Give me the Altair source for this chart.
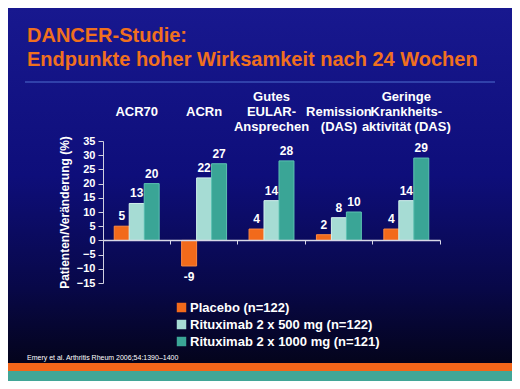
import altair as alt
import pandas as pd

categories = ["\nACR70", "\nACRn", "Gutes\nEULAR-\nAnsprechen", "\nRemission\n(DAS)",
              "Geringe\nKrankheits-\naktivität (DAS)"]
series = ["Placebo (n=122)", "Rituximab 2 x 500 mg (n=122)", "Rituximab 2 x 1000 mg (n=121)"]
placebo = [5, -9, 4, 2, 4]
ritux500 = [13, 22, 14, 8, 14]
ritux1000 = [20, 27, 28, 10, 29]
colors = ["#f26a1b", "#a6dcd4", "#3aa596"]
strokes = ["#ff8a40", "#d0f0ec", "#5cc2b2"]

rows = []
for i, c in enumerate(categories):
    for s, vals in zip(series, [placebo, ritux500, ritux1000]):
        rows.append({"cat": c, "series": s, "value": vals[i], "label": str(vals[i])})
df = pd.DataFrame(rows)

W, H = 504, 373
FONT = "Liberation Sans"

xscale = alt.Scale(domain=categories, range=[95, 432], paddingInner=0, paddingOuter=0)
yscale = alt.Scale(domain=[-15, 35], range=[275, 133], nice=False, zero=False)
xoff = alt.XOffset("series:N", sort=series, scale=alt.Scale(paddingInner=0, paddingOuter=0.75))
yaxis = alt.Axis(orient="left", offset=-95, values=list(range(-15, 40, 5)), grid=False,
                 zindex=2,
                 domainColor="#d0d0e0", tickColor="#d0d0e0", tickSize=5, labelPadding=3,
                 labelColor="white", labelFont=FONT, labelFontWeight="bold", labelFontSize=11,
                 title="Patienten/Veränderung (%)", titleColor="white", titleFont=FONT,
                 titleFontWeight="bold", titleFontSize=12, titlePadding=5)
y = alt.Y("value:Q", scale=yscale, axis=yaxis)

bg = alt.Chart(pd.DataFrame({"a": [0]})).mark_rect(
    color=alt.LinearGradient(gradient="linear", x1=0, x2=0, y1=0, y2=1, stops=[
        alt.GradientStop(offset=0, color="#18188f"),
        alt.GradientStop(offset=0.45, color="#0e0e7a"),
        alt.GradientStop(offset=0.75, color="#080848"),
        alt.GradientStop(offset=0.95, color="#04041c"),
    ])
).encode(x=alt.value(0), x2=alt.value(W), y=alt.value(0), y2=alt.value(H))

bars = alt.Chart(df).mark_bar(strokeWidth=1).encode(
    x=alt.X("cat:N", sort=categories, scale=xscale,
            axis=alt.Axis(orient="top", offset=-95, title=None, ticks=False, domain=False,
                          zindex=2,
                          labelPadding=0, labelAngle=0, labelOverlap=False, labelBound=False,
                          labelExpr="split(datum.label, '\\n')", labelLineHeight=15,
                          labelColor="white", labelFont=FONT, labelFontWeight="bold",
                          labelFontSize=13, labelBaseline="bottom", labelLimit=200)),
    xOffset=xoff,
    y=y,
    color=alt.Color("series:N", sort=series, scale=alt.Scale(domain=series, range=colors),
                    legend=alt.Legend(orient="none", legendX=167, legendY=293, title=None,
                                      symbolType="square", symbolSize=90, symbolStrokeWidth=0,
                                      labelColor="white", labelFont=FONT, labelFontWeight="bold",
                                      labelFontSize=13, rowPadding=3, labelOffset=2,
                                      labelLimit=400)),
    stroke=alt.Stroke("series:N", sort=series, scale=alt.Scale(domain=series, range=strokes),
                      legend=None),
)

pos_text = alt.Chart(df).transform_filter("datum.value >= 0").mark_text(
    dy=-10, baseline="middle", color="white", font=FONT, fontWeight="bold", fontSize=12
).encode(
    x=alt.X("cat:N", sort=categories, scale=xscale,
            axis=alt.Axis(orient="bottom", offset=-141, title=None, labels=False, zindex=2,
                          bandPosition=1, domainColor="#d8d8e8",
                          domainWidth=1.5, tickColor="#d8d8e8", tickSize=4, grid=False)),
    xOffset=xoff, y=y, text="label:N",
)

neg_text = alt.Chart(df).transform_filter("datum.value < 0").mark_text(
    dy=11, baseline="middle", color="white", font=FONT, fontWeight="bold", fontSize=12
).encode(
    x=alt.X("cat:N", sort=categories, scale=xscale, axis=None),
    xOffset=xoff, y=y, text="label:N",
)

title_lines = ["DANCER-Studie:\nEndpunkte hoher Wirksamkeit nach 24 Wochen"]
title = alt.Chart(pd.DataFrame({"t": title_lines})).mark_text(
    align="left", baseline="alphabetic", color="#f0701e", font=FONT, fontWeight="bold",
    fontSize=20, lineHeight=24, lineBreak="\n"
).encode(x=alt.value(19), y=alt.value(34), text="t:N")

sep = alt.Chart(pd.DataFrame({"a": [0]})).mark_rule(color="#4f6fcf", strokeWidth=1).encode(
    x=alt.value(17), x2=alt.value(487), y=alt.value(74))

footnote = ["Emery et al. Arthritis Rheum 2006;54:1390–1400"]
foot = alt.Chart(pd.DataFrame({"t": footnote})).mark_text(
    align="left", baseline="middle", color="white", font=FONT, fontSize=7
).encode(x=alt.value(19), y=alt.value(350), text="t:N")

orange_stripe = alt.Chart(pd.DataFrame({"a": [0]})).mark_rect(color="#f2661a").encode(
    x=alt.value(0), x2=alt.value(W), y=alt.value(355), y2=alt.value(363))
teal_stripe = alt.Chart(pd.DataFrame({"a": [0]})).mark_rect(color="#41a697").encode(
    x=alt.value(0), x2=alt.value(W), y=alt.value(363), y2=alt.value(H))

chart = alt.layer(
    bg, orange_stripe, teal_stripe, sep, title, foot, bars, pos_text, neg_text
).resolve_axis(x="independent").resolve_scale(stroke="independent").properties(
    width=W, height=H, padding=0, autosize=alt.AutoSizeParams(type="none")
).configure_view(strokeWidth=0).configure(background="#04041c")

chart.save("out.html", embed_options={"renderer": "svg", "actions": False})
